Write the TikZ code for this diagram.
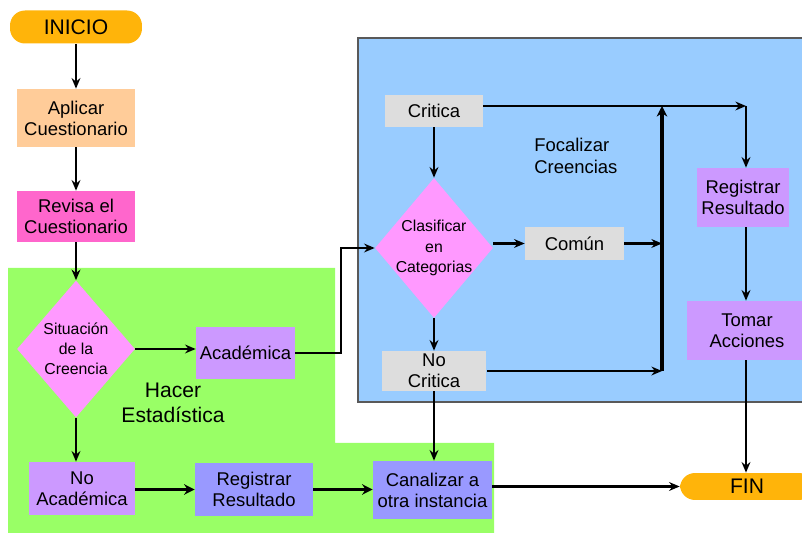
\documentclass[tikz,border=0pt]{standalone}
\usepackage{fontspec}
\setmainfont{Liberation Sans}
\usetikzlibrary{shapes.geometric,arrows.meta}

\definecolor{naranja}{RGB}{255,180,10}
\definecolor{durazno}{RGB}{255,204,153}
\definecolor{rosa}{RGB}{255,102,204}
\definecolor{verde}{RGB}{153,255,102}
\definecolor{celeste}{RGB}{153,204,255}
\definecolor{lila}{RGB}{255,153,255}
\definecolor{morado}{RGB}{204,153,255}
\definecolor{azulado}{RGB}{153,153,255}
\definecolor{gris}{RGB}{221,221,221}

\tikzset{
  caja/.style={rectangle, inner sep=1pt, align=center, font=\fontsize{10.5}{12}\selectfont},
  extremo/.style={rectangle, rounded corners=0.3cm, inner sep=0pt, font=\fontsize{12}{14}\selectfont},
  decision/.style={diamond, fill=lila, inner sep=-2pt, align=center, font=\fontsize{9}{11.5}\selectfont},
  flecha/.style={line width=1.3pt, -{Stealth[length=6pt,width=5pt]}},
  flechagruesa/.style={line width=1.9pt, -{Stealth[length=6pt,width=6pt]}}
}

\begin{document}
\begin{tikzpicture}[x=0.02cm,y=-0.02cm]
  \useasboundingbox (0,0) rectangle (802,533);
  % --- zonas de fondo ---
  \fill[verde] (8,268) -- (335,268) -- (335,443) -- (494,443) -- (494,533) -- (8,533) -- cycle;
  \filldraw[fill=celeste, draw=black!65, line width=0.6pt] (358,38) rectangle (806,402);
  \node[font=\fontsize{12}{14}\selectfont, align=center] (hacer) at (173,403) {Hacer\\Estad\'istica};
  \node[font=\fontsize{10.5}{12.5}\selectfont, align=left, anchor=west, inner sep=0pt] (focal) at (534,156) {Focalizar\\Creencias};

  % --- columna izquierda ---
  \node[extremo, fill=naranja, minimum width=2.64cm, minimum height=0.66cm] (inicio) at (76,27) {INICIO};
  \node[caja, fill=durazno, minimum width=2.36cm, minimum height=1.16cm] (aplicar) at (76,118) {Aplicar\\Cuestionario};
  \node[caja, fill=rosa, minimum width=2.36cm, minimum height=1.02cm] (revisa) at (76,216.5) {Revisa el\\Cuestionario};
  \node[decision, minimum width=2.36cm, minimum height=2.74cm] (situacion) at (76,349) {Situaci\'on\\de la\\Creencia};
  \node[caja, fill=morado, minimum width=1.98cm, minimum height=1.04cm] (academica) at (245.5,353) {Acad\'emica};
  \node[caja, fill=morado, minimum width=2.12cm, minimum height=1.06cm] (noacad) at (82,488.5) {No\\Acad\'emica};
  \node[caja, fill=azulado, minimum width=2.36cm, minimum height=1.06cm] (registro) at (254,489.5) {Registrar\\Resultado};
  \node[caja, fill=azulado, minimum width=2.38cm, minimum height=1.16cm] (canalizar) at (432.5,490) {Canalizar a\\otra instancia};

  % --- zona azul ---
  \node[caja, fill=gris, minimum width=1.96cm, minimum height=0.64cm] (critica) at (434,111) {Critica};
  \node[decision, minimum width=2.36cm, minimum height=2.8cm] (clasificar) at (434,248) {Clasificar\\en\\Categorias};
  \node[caja, fill=gris, minimum width=1.98cm, minimum height=0.66cm] (comun) at (574.5,243.5) {Com\'un};
  \node[caja, fill=gris, minimum width=2.1cm, minimum height=0.8cm] (nocritica) at (434,371) {No\\Critica};
  \node[caja, fill=morado, minimum width=1.86cm, minimum height=1.18cm] (registro2) at (743,197.5) {Registrar\\Resultado};
  \node[caja, fill=morado, minimum width=2.4cm, minimum height=1.18cm] (tomar) at (747,330.5) {Tomar\\Acciones};
  \node[extremo, fill=naranja, minimum width=2.68cm, minimum height=0.54cm] (fin) at (747,486.5) {FIN};

  \coordinate (quiebre) at (341,300);
  \coordinate (barra) at (662,300);
  \coordinate (bajada) at (746,106);

  % --- conectores ---
  \draw[flecha] (inicio) -- (aplicar);
  \draw[flecha] (aplicar) -- (revisa);
  \draw[flecha] (revisa) -- (situacion);
  \draw[flecha] (situacion.east) -- (situacion.east -| academica.west);
  \draw[flecha] (situacion.south) -- (situacion.south |- noacad.north);
  \draw[flecha] (academica.east) -- (academica.east -| quiebre) |- (clasificar.west);
  \draw[flechagruesa] (noacad.east |- registro.west) -- (registro.west);
  \draw[flechagruesa] (registro.east) -- (registro.east -| canalizar.west);
  \draw[flecha] (canalizar.east |- fin.west) -- (fin.west);
  \draw[flecha] (critica) -- (clasificar);
  \draw[flecha] (clasificar.east |- comun.west) -- (comun.west);
  \draw[flecha] (clasificar) -- (nocritica);
  \draw[flecha] (nocritica.south) -- (nocritica.south |- canalizar.north);
  \draw[flecha] (critica.east |- bajada) -- (bajada);
  \draw[flecha] (bajada) -- (bajada |- registro2.north);
  \draw[flecha] (comun.east) -- (comun.east -| barra);
  \draw[flecha] (nocritica.east) -- (nocritica.east -| barra);
  \draw[flechagruesa] (nocritica.east -| barra) -- (bajada -| barra);
  \draw[flecha] (registro2.south -| bajada) -- (tomar.north -| bajada);
  \draw[flecha] (tomar.south -| bajada) -- (fin.north -| bajada);
\end{tikzpicture}
\end{document}
